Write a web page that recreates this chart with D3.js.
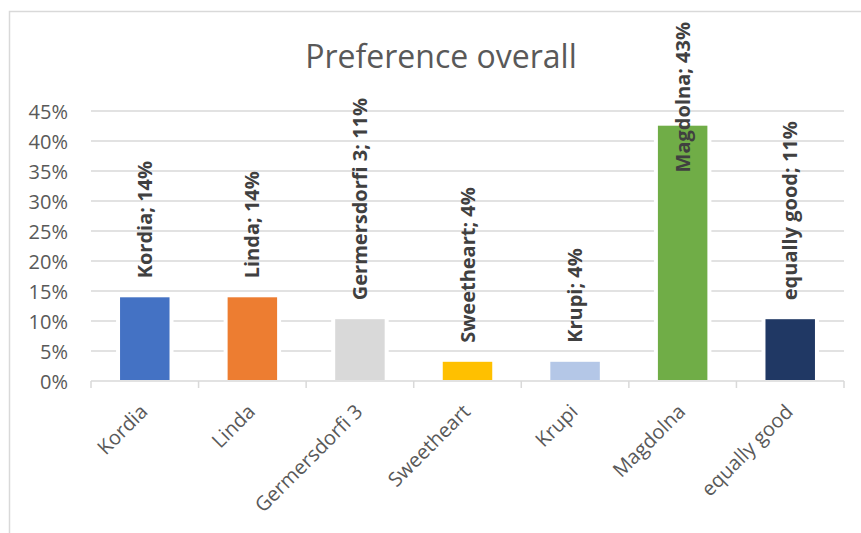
<!DOCTYPE html>
<html><head><meta charset="utf-8">
<script src="https://cdn.jsdelivr.net/npm/d3@7"></script>
<style>body{margin:0;background:#fff}svg{display:block}</style>
</head><body>
<svg id="c" width="861" height="533"></svg>
<script>
const categories = ["Kordia","Linda","Germersdorfi 3","Sweetheart","Krupi","Magdolna","equally good"];
const values = [0.1395, 0.1395, 0.103, 0.032, 0.032, 0.4255, 0.103];
const labelTexts = ["Kordia; 14%","Linda; 14%","Germersdorfi 3; 11%","Sweetheart; 4%","Krupi; 4%","Magdolna; 43%","equally good; 11%"];
const colors = ["#4472C4","#ED7D31","#D9D9D9","#FFC000","#B4C7E7","#70AD47","#203864"];
const yTicks = [0,0.05,0.10,0.15,0.20,0.25,0.30,0.35,0.40,0.45];
const title = "Preference overall";

(function(){
const svg = d3.select("#c");
const pL = 91, pR = 844, pT = 111, pB = 381;
const x = d3.scaleBand().domain(categories).range([pL, pR]).paddingInner(0.54).paddingOuter(0.27);
const y = d3.scaleLinear().domain([0, 0.45]).range([pB, pT]);

// chart border
svg.append("rect").attr("x",9.5).attr("y",11.5).attr("width",900).attr("height",600)
  .attr("fill","none").attr("stroke","#d9d9d9").attr("stroke-width",1.5);

// title
svg.append("text").attr("x",441).attr("y",67.5).attr("text-anchor","middle")
  .attr("font-family","Open Sans").attr("font-size",32).attr("fill","#595959").text(title);

// gridlines
svg.append("g").selectAll("line").data(yTicks.filter(d=>d>0)).join("line")
  .attr("x1",pL).attr("x2",pR).attr("y1",d=>y(d)).attr("y2",d=>y(d))
  .attr("stroke","#d9d9d9").attr("stroke-width",1.5);

const yAxis = d3.axisLeft(y).tickValues(yTicks).tickFormat(d3.format(".0%")).tickSize(0).tickPadding(0);
const gy = svg.append("g").attr("transform",`translate(68,0)`).call(yAxis);
gy.select(".domain").remove();
gy.selectAll("text").attr("font-family","Open Sans").attr("font-size",20).attr("fill","#595959").attr("dy","0.36em");

// bars (white halo to cut gridlines)
svg.append("g").selectAll("rect").data(values).join("rect")
  .attr("x",(d,i)=>x(categories[i])-4).attr("width",x.bandwidth()+8)
  .attr("y",d=>y(d)-4).attr("height",d=>y(0)-y(d)+4).attr("fill","#fff");
svg.append("g").selectAll("rect").data(values).join("rect")
  .attr("x",(d,i)=>x(categories[i])).attr("width",x.bandwidth())
  .attr("y",d=>y(d)).attr("height",d=>y(0)-y(d)-1).attr("fill",(d,i)=>colors[i]);

// x axis
const xAxis = d3.axisBottom(x).tickSize(0).tickFormat("");
const gx = svg.append("g").attr("transform",`translate(0,${pB})`).call(xAxis);
gx.select(".domain").attr("stroke","#d9d9d9").attr("stroke-width",1.5).attr("d",`M${pL},0H${pR}`);
const bounds = categories.map(c=>x(c)-x.step()*x.paddingInner()/2).concat([pR]);
gx.selectAll(".bt").data(bounds).join("line").attr("class","bt")
  .attr("x1",d=>d).attr("x2",d=>d).attr("y1",0).attr("y2",7).attr("stroke","#d9d9d9").attr("stroke-width",1.5);
svg.append("g").selectAll("text").data(categories).join("text")
  .attr("transform",d=>`translate(${x(d)+x.bandwidth()/2+4},${pB+32}) rotate(-45)`)
  .attr("text-anchor","end").attr("font-family","Open Sans").attr("font-size",20).attr("fill","#595959")
  .text(d=>d);

// data labels
const lbl = svg.append("g").selectAll("text").data(values).join("text")
  .attr("font-family","Open Sans").attr("font-weight","bold").attr("font-size",20).attr("fill","#404040")
  .text((d,i)=>labelTexts[i]);
lbl.each(function(d,i){
  const len = this.getComputedTextLength();
  let yb = y(d) - 19;
  if (yb - len < 22) yb = 22 + len;
  const cx = x(categories[i]) + x.bandwidth()/2 + 7;
  d3.select(this).attr("transform",`translate(${cx},${yb}) rotate(-90)`);
});
})();
</script>
</body></html>
